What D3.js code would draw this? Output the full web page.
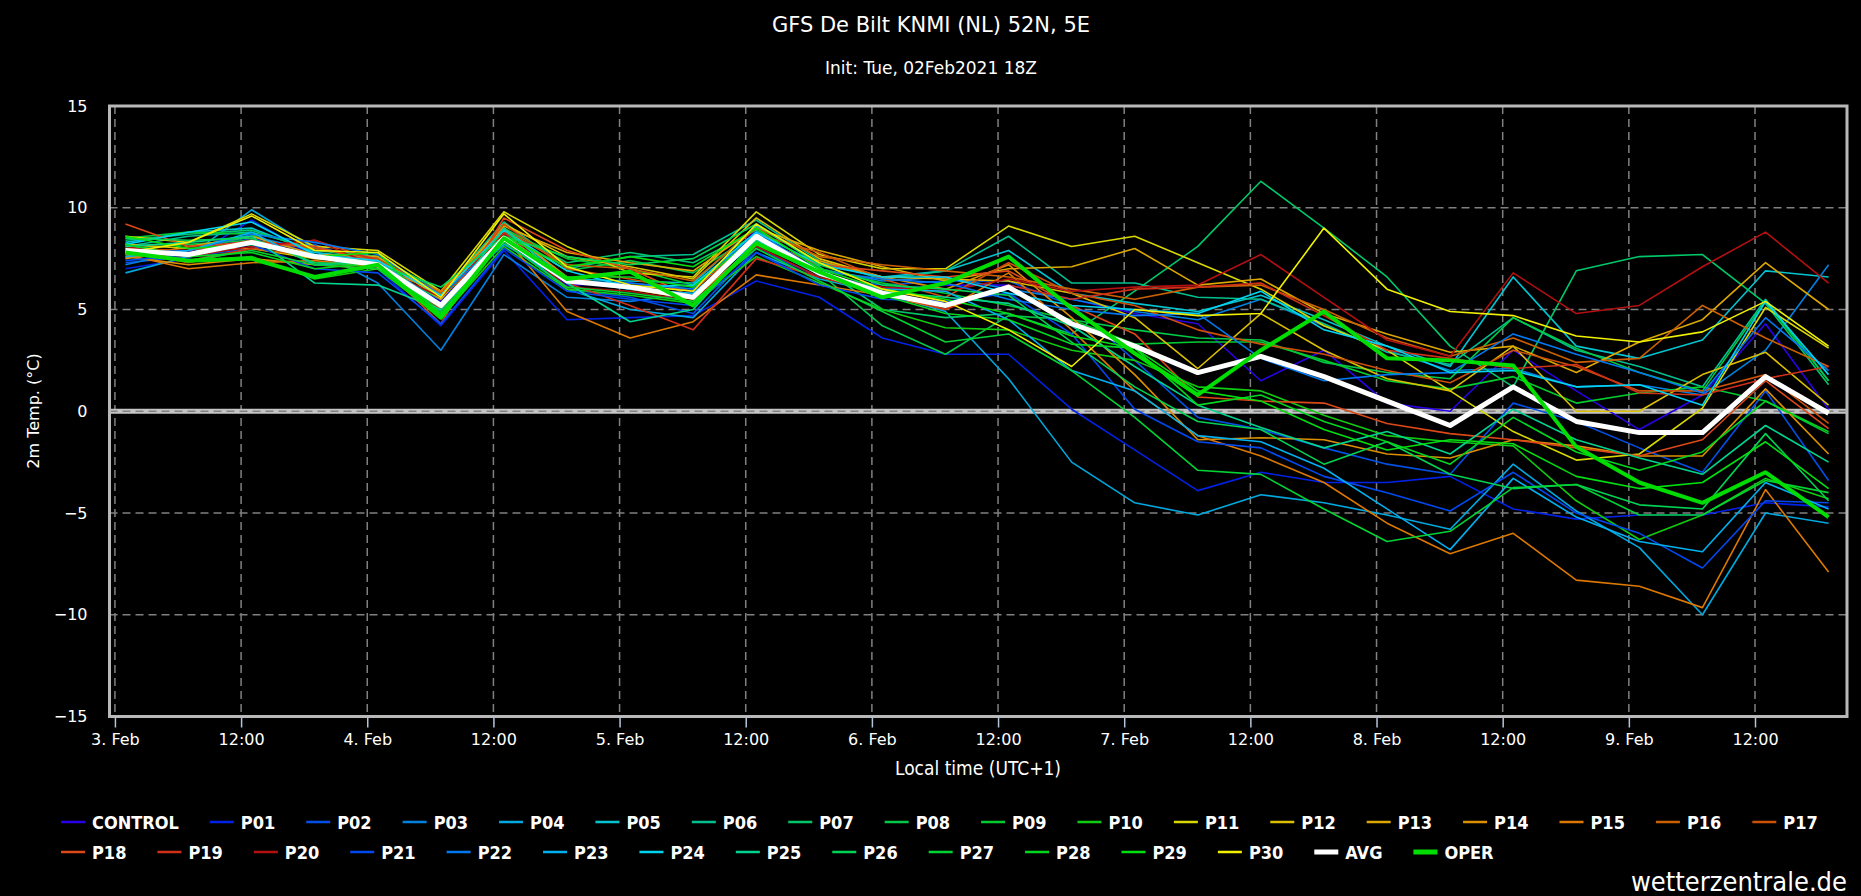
<!DOCTYPE html>
<html>
<head>
<meta charset="utf-8">
<script src="https://cdn.jsdelivr.net/npm/d3@7"></script>
<style>
  html, body { margin: 0; padding: 0; background: #000; overflow: hidden; }
  svg { display: block; }
  .cond { font-family: "DejaVu Sans Condensed", "Liberation Sans Narrow", "DejaVu Sans", sans-serif; font-stretch: condensed; }
</style>
</head>
<body>
<svg id="chart"></svg>
<script>
// 6-hourly forecast steps, local time (UTC+1)
const times = [
  "2021-02-03T01:00Z", "2021-02-03T07:00Z", "2021-02-03T13:00Z", "2021-02-03T19:00Z",
  "2021-02-04T01:00Z", "2021-02-04T07:00Z", "2021-02-04T13:00Z", "2021-02-04T19:00Z",
  "2021-02-05T01:00Z", "2021-02-05T07:00Z", "2021-02-05T13:00Z", "2021-02-05T19:00Z",
  "2021-02-06T01:00Z", "2021-02-06T07:00Z", "2021-02-06T13:00Z", "2021-02-06T19:00Z",
  "2021-02-07T01:00Z", "2021-02-07T07:00Z", "2021-02-07T13:00Z", "2021-02-07T19:00Z",
  "2021-02-08T01:00Z", "2021-02-08T07:00Z", "2021-02-08T13:00Z", "2021-02-08T19:00Z",
  "2021-02-09T01:00Z", "2021-02-09T07:00Z", "2021-02-09T13:00Z", "2021-02-09T19:00Z"
];

const xTicks = [
  "2021-02-03T00:00Z", "2021-02-03T12:00Z", "2021-02-04T00:00Z", "2021-02-04T12:00Z",
  "2021-02-05T00:00Z", "2021-02-05T12:00Z", "2021-02-06T00:00Z", "2021-02-06T12:00Z",
  "2021-02-07T00:00Z", "2021-02-07T12:00Z", "2021-02-08T00:00Z", "2021-02-08T12:00Z",
  "2021-02-09T00:00Z", "2021-02-09T12:00Z"
];
const xTickLabels = ["3. Feb", "12:00", "4. Feb", "12:00", "5. Feb", "12:00", "6. Feb", "12:00",
                     "7. Feb", "12:00", "8. Feb", "12:00", "9. Feb", "12:00"];
const yTicks = [-15, -10, -5, 0, 5, 10, 15];

// 2m temperature (°C) per member
const CONTROL = [7.6, 7.8, 8.5, 7.8, 7.3, 5.4, 8.8, 6.2, 6.3, 5.9, 8.9, 6.7, 6.0, 6.2, 6.2, 5.5, 4.8, 4.3, 1.5, 3.0, 0.4, 0.0, 3.0, 1.0, -0.9, 0.8, 4.3, 0.1];
const P01 = [7.0, 7.5, 9.4, 7.6, 7.0, 4.2, 7.9, 4.5, 4.6, 4.7, 6.4, 5.6, 3.6, 2.8, 2.8, 0.1, -1.9, -3.9, -3.0, -3.5, -3.5, -3.2, -4.8, -5.3, -5.1, -5.1, -4.5, -4.7];
const P02 = [7.3, 7.6, 8.0, 8.2, 7.1, 5.0, 8.4, 6.0, 5.6, 4.8, 8.0, 6.6, 6.2, 6.4, 6.4, 5.2, 2.5, -0.3, -0.9, -1.8, -2.6, -3.1, 0.4, -0.5, -1.8, -3.0, 1.0, -3.4];
const P03 = [7.2, 7.9, 8.6, 7.9, 6.3, 3.0, 7.7, 5.6, 5.4, 5.8, 8.4, 7.0, 6.4, 6.6, 6.0, 5.5, 4.9, 4.5, 5.5, 4.2, 3.0, 2.0, 2.1, 1.2, 1.3, 0.8, 3.0, 7.2];
const P04 = [6.8, 7.6, 9.9, 8.0, 7.6, 4.9, 8.6, 6.0, 5.0, 4.6, 7.8, 6.5, 5.8, 4.9, 1.6, -2.5, -4.5, -5.1, -4.1, -4.5, -5.1, -5.8, -2.6, -4.9, -6.7, -10.0, -5.0, -5.5];
const P05 = [8.3, 8.8, 9.0, 7.8, 7.5, 5.6, 9.0, 6.5, 6.4, 6.3, 9.1, 7.3, 6.6, 6.9, 7.9, 5.8, 5.3, 4.9, 5.7, 4.5, 3.2, 2.2, 6.6, 3.2, 2.6, 3.5, 6.9, 6.6];
const P06 = [8.1, 8.6, 8.8, 8.0, 7.4, 5.8, 9.3, 7.0, 7.6, 7.7, 9.4, 7.4, 6.5, 6.9, 8.6, 6.3, 6.3, 5.6, 5.5, 4.3, 2.9, 2.3, 4.6, 3.0, 2.2, 1.2, 5.5, 1.5];
const P07 = [8.4, 8.7, 8.9, 7.9, 7.6, 5.9, 9.0, 7.3, 7.8, 7.3, 8.9, 7.1, 5.0, 4.6, 4.8, 3.8, 5.9, 8.1, 11.3, 9.0, 6.6, 3.2, 1.2, 6.9, 7.6, 7.7, 5.3, 1.3];
const P08 = [8.0, 8.2, 8.4, 7.3, 7.1, 5.5, 8.8, 6.9, 7.4, 6.8, 8.7, 6.8, 4.2, 2.8, 4.7, 4.5, 4.0, 3.6, 3.5, 2.4, 1.9, 1.6, 4.6, 3.1, 1.9, 1.0, 5.4, 1.5];
const P09 = [8.5, 8.8, 8.7, 7.2, 7.3, 4.9, 8.9, 7.5, 7.0, 6.2, 8.5, 7.0, 6.3, 5.8, 5.2, 4.5, 3.3, 3.4, 3.4, 2.5, 1.5, 1.1, 1.7, 0.4, 0.9, 1.2, 0.5, -1.1];
const P10 = [7.7, 7.4, 7.6, 6.5, 7.0, 4.6, 8.1, 6.0, 5.7, 5.3, 7.6, 6.3, 5.0, 4.1, 4.0, 3.0, 2.5, 1.2, 1.0, -0.2, -1.2, -1.5, -1.7, -4.4, -6.3, -5.1, -3.3, -4.3];
const P11 = [8.6, 8.3, 9.7, 8.1, 7.9, 5.9, 9.8, 8.1, 6.8, 6.6, 9.8, 7.7, 7.0, 7.0, 9.1, 8.1, 8.6, 7.3, 6.0, 4.2, 3.0, 1.0, -1.0, -2.4, -2.1, 0.15, 5.1, 3.1];
const P12 = [8.2, 8.0, 8.0, 7.5, 7.4, 5.7, 9.2, 7.6, 7.1, 6.5, 9.5, 7.5, 6.6, 6.5, 6.4, 5.8, 4.6, 2.1, 4.8, 3.0, 1.6, 1.0, 3.2, 0.0, 0.0, 1.8, 2.9, 0.3];
const P13 = [7.5, 8.1, 8.6, 7.7, 7.6, 5.5, 9.1, 7.8, 7.3, 6.9, 9.0, 7.9, 7.1, 6.4, 7.0, 7.1, 8.0, 6.2, 6.5, 4.8, 3.8, 2.9, 3.2, 1.9, 3.4, 4.5, 7.3, 5.0];
const P14 = [7.6, 7.2, 7.5, 7.2, 7.0, 5.9, 9.0, 6.6, 6.0, 5.5, 8.2, 7.4, 6.6, 6.0, 7.2, 4.6, 1.8, -1.4, -1.3, -1.4, -2.1, -2.3, -1.4, -1.7, -2.2, -2.2, 1.1, -2.1];
const P15 = [7.7, 7.0, 7.3, 7.4, 7.1, 5.9, 8.6, 4.9, 3.6, 4.4, 6.7, 6.2, 5.7, 5.0, 6.8, 4.0, 1.0, -1.2, -2.2, -3.5, -5.5, -7.0, -6.0, -8.3, -8.6, -9.65, -3.85, -7.9];
const P16 = [7.9, 7.3, 8.0, 7.6, 7.5, 5.8, 8.9, 7.2, 7.0, 6.4, 9.0, 7.6, 7.2, 6.9, 6.6, 6.0, 5.5, 6.1, 6.2, 5.0, 3.6, 2.7, 3.6, 2.4, 2.6, 5.2, 3.6, 2.2];
const P17 = [8.0, 7.9, 8.4, 8.0, 7.5, 5.2, 9.2, 7.0, 6.5, 5.9, 8.7, 7.8, 6.5, 5.6, 7.3, 5.8, 5.2, 4.0, 3.3, 2.8, 2.0, 1.4, 3.0, 2.2, 1.0, 1.0, 1.8, -0.6];
const P18 = [9.2, 8.1, 8.3, 8.1, 7.3, 4.3, 9.5, 7.9, 7.0, 5.6, 8.5, 7.2, 6.9, 6.6, 6.9, 5.2, 3.8, 0.7, 0.5, 0.4, -0.6, -1.1, -1.4, -1.8, -2.2, -1.4, 1.5, -0.85];
const P19 = [8.0, 7.4, 8.0, 8.4, 7.4, 5.0, 8.8, 6.3, 5.2, 4.0, 7.5, 6.6, 5.8, 5.0, 6.2, 5.5, 6.0, 6.1, 6.3, 4.7, 3.0, 2.6, 2.1, 2.3, 0.9, 0.8, 1.6, 2.2];
const P20 = [8.1, 7.6, 8.1, 8.4, 7.1, 5.6, 8.7, 6.1, 5.9, 5.4, 8.1, 6.6, 6.1, 5.9, 6.5, 5.9, 6.1, 6.2, 7.7, 5.6, 3.5, 2.7, 6.8, 4.8, 5.2, 7.1, 8.8, 6.3];
const P21 = [7.4, 7.7, 8.2, 7.0, 6.8, 4.3, 8.0, 5.9, 5.5, 5.2, 7.8, 6.2, 5.5, 5.4, 5.8, 3.8, 0.1, -1.5, -1.8, -3.2, -4.0, -4.9, -3.0, -5.0, -6.0, -7.7, -4.4, -4.5];
const P22 = [7.8, 7.9, 8.7, 8.3, 7.7, 5.7, 8.5, 6.4, 6.3, 6.0, 8.8, 6.9, 6.5, 6.3, 5.5, 5.0, 4.7, 4.8, 2.6, 1.5, 1.8, 1.9, 3.8, 2.8, 1.9, 0.9, 4.6, 2.0];
const P23 = [7.6, 7.9, 8.8, 7.2, 7.4, 5.3, 8.2, 6.4, 6.0, 5.8, 8.3, 6.7, 6.0, 5.9, 4.5, 2.0, 1.0, -1.2, -1.5, -2.8, -4.8, -6.8, -3.3, -5.2, -6.4, -6.9, -3.5, -4.8];
const P24 = [8.2, 8.8, 9.3, 7.7, 7.4, 5.7, 8.9, 6.9, 6.1, 6.2, 8.8, 7.2, 6.6, 6.6, 5.8, 5.2, 5.0, 4.8, 5.9, 4.0, 3.2, 1.9, 2.0, 1.2, 1.3, 0.3, 5.4, 1.8];
const P25 = [8.1, 8.3, 8.6, 6.3, 6.2, 5.0, 9.0, 6.3, 4.4, 5.0, 8.4, 6.7, 5.9, 5.6, 5.3, 4.2, 2.2, 0.3, -0.8, -1.8, -1.0, -2.1, 0.1, -1.4, -2.3, -3.1, -0.7, -2.5];
const P26 = [8.5, 8.4, 8.5, 7.3, 7.2, 6.1, 8.6, 7.6, 7.2, 7.5, 9.2, 7.2, 6.2, 6.0, 5.7, 3.4, 1.2, -0.5, -0.9, -2.6, -1.5, -3.1, -3.8, -3.6, -4.6, -4.8, -1.1, -4.4];
const P27 = [7.8, 7.4, 7.9, 7.2, 7.0, 5.1, 8.3, 6.1, 5.8, 5.4, 8.0, 6.4, 4.9, 3.4, 3.8, 2.0, -0.3, -2.9, -3.1, -4.8, -6.4, -5.9, -3.75, -3.6, -5.1, -5.1, -3.4, -4.0];
const P28 = [8.2, 7.6, 7.8, 7.0, 7.3, 4.8, 8.5, 6.6, 6.6, 6.1, 8.6, 6.9, 5.7, 4.8, 4.5, 3.3, 3.1, 0.3, 0.8, -0.5, -1.5, -2.6, -0.3, -2.0, -2.9, -2.0, 0.5, -1.0];
const P29 = [8.6, 8.0, 8.2, 7.6, 7.8, 4.7, 8.6, 7.1, 7.6, 7.1, 9.0, 7.0, 6.0, 5.5, 4.8, 3.7, 3.1, 1.0, 0.5, -0.9, -1.9, -1.4, -1.6, -3.2, -3.8, -3.5, -1.5, -3.8];
const P30 = [7.8, 8.3, 9.6, 7.9, 7.8, 5.6, 9.7, 7.1, 6.2, 5.9, 9.2, 7.3, 6.0, 5.4, 4.0, 2.2, 5.0, 4.7, 4.8, 9.0, 6.0, 4.9, 4.7, 3.7, 3.4, 3.9, 5.4, 3.2];
const AVG = [7.9, 7.7, 8.3, 7.6, 7.2, 5.2, 8.5, 6.4, 6.1, 5.6, 8.6, 6.8, 5.8, 5.2, 6.1, 4.3, 3.2, 1.9, 2.7, 1.7, 0.5, -0.7, 1.2, -0.5, -1.05, -1.05, 1.7, -0.1];
const OPER = [7.8, 7.4, 7.5, 6.6, 7.2, 4.6, 8.5, 6.5, 6.85, 5.2, 8.25, 6.85, 5.6, 6.3, 7.6, 5.05, 2.85, 0.8, 3.0, 4.9, 2.6, 2.5, 2.25, -1.75, -3.5, -4.5, -3.0, -5.2];

const seriesNames = ["CONTROL", "P01", "P02", "P03", "P04", "P05", "P06", "P07", "P08", "P09", "P10",
  "P11", "P12", "P13", "P14", "P15", "P16", "P17", "P18", "P19", "P20", "P21", "P22", "P23", "P24",
  "P25", "P26", "P27", "P28", "P29", "P30", "AVG", "OPER"];
const seriesValues = [CONTROL, P01, P02, P03, P04, P05, P06, P07, P08, P09, P10,
  P11, P12, P13, P14, P15, P16, P17, P18, P19, P20, P21, P22, P23, P24,
  P25, P26, P27, P28, P29, P30, AVG, OPER];
const seriesColors = ["#2a00e6", "#0022e6", "#0050e6", "#0080e0", "#00a8e0", "#00c4d0", "#00c090",
  "#00c868", "#00c848", "#00cc30", "#10cc10", "#d8d800", "#dcc000", "#dca800", "#dc9000", "#dc7800",
  "#cc6000", "#cc5008", "#dc4818", "#d03018", "#b41010", "#0048f0", "#0078f0", "#00b0f0", "#00d4f0",
  "#00d490", "#00d454", "#00d434", "#00d820", "#00e010", "#f0f000", "#ffffff", "#00dd00"];

// ---------------------------------------------------------------
const W = 1861, H = 896;
const plot = { left: 109.5, top: 106, right: 1847, bottom: 716.5 };

const svg = d3.select("#chart").attr("width", W).attr("height", H)
  .style("background", "#000");

const x = d3.scaleUtc()
  .domain([new Date("2021-02-02T23:29Z"), new Date("2021-02-09T20:45Z")])
  .range([plot.left, plot.right]);
const y = d3.scaleLinear().domain([-15, 15]).range([plot.bottom, plot.top]);

// title
svg.append("text").attr("x", 931).attr("y", 32).attr("text-anchor", "middle")
  .style("font-family", "DejaVu Sans, sans-serif").style("font-size", "21px").attr("fill", "#fff")
  .text("GFS De Bilt KNMI (NL) 52N, 5E");
svg.append("text").attr("x", 931).attr("y", 74).attr("text-anchor", "middle")
  .style("font-family", "DejaVu Sans, sans-serif").style("font-size", "17px").attr("fill", "#fff")
  .text("Init: Tue, 02Feb2021 18Z");

// grid
const grid = svg.append("g");
grid.selectAll(".vg").data(xTicks).enter().append("line")
  .attr("x1", d => x(new Date(d))).attr("x2", d => x(new Date(d)))
  .attr("y1", plot.top).attr("y2", plot.bottom)
  .attr("stroke", "#808080").attr("stroke-width", 1.5).attr("stroke-dasharray", "8,5");
grid.append("line")
  .attr("x1", plot.left).attr("x2", plot.right).attr("y1", y(0)).attr("y2", y(0))
  .attr("stroke", "#c4c4c4").attr("stroke-width", 5);
grid.selectAll(".hg").data(yTicks.filter(d => d > -15 && d < 15)).enter().append("line")
  .attr("x1", plot.left).attr("x2", plot.right).attr("y1", d => y(d)).attr("y2", d => y(d))
  .attr("stroke", "#808080").attr("stroke-width", 1.5).attr("stroke-dasharray", "8,5");

// series
svg.append("clipPath").attr("id", "clip").append("rect")
  .attr("x", plot.left).attr("y", plot.top)
  .attr("width", plot.right - plot.left).attr("height", plot.bottom - plot.top);

const line = d3.line()
  .x((d, i) => x(new Date(times[i])))
  .y(d => y(d));

const series = seriesNames.map((name, k) => ({
  name, values: seriesValues[k], color: seriesColors[k],
  width: name === "AVG" ? 5 : name === "OPER" ? 4 : 1.6
}));

svg.append("g").attr("clip-path", "url(#clip)")
  .selectAll("path").data(series).enter().append("path")
  .attr("d", d => line(d.values))
  .attr("fill", "none")
  .attr("stroke", d => d.color)
  .attr("stroke-width", d => d.width)
  .attr("stroke-linejoin", "round");

// frame
svg.append("rect").attr("x", plot.left).attr("y", plot.top)
  .attr("width", plot.right - plot.left).attr("height", plot.bottom - plot.top)
  .attr("fill", "none").attr("stroke", "#b8b8b8").attr("stroke-width", 3);

// axes
const xAxis = svg.append("g").attr("transform", `translate(0,${plot.bottom + 1})`)
  .call(d3.axisBottom(x).tickValues(xTicks.map(d => new Date(d)))
    .tickFormat((d, i) => xTickLabels[i]).tickSize(10).tickPadding(6));
xAxis.select(".domain").remove();
xAxis.selectAll(".tick line").attr("stroke", "#b4c4dc").attr("stroke-width", 1.5);
xAxis.selectAll(".tick text").attr("fill", "#fff")
  .style("font-family", "DejaVu Sans, sans-serif").style("font-size", "16px");

const yAxis = svg.append("g").attr("transform", `translate(${plot.left},0)`)
  .call(d3.axisLeft(y).tickValues(yTicks).tickSize(0).tickPadding(22));
yAxis.select(".domain").remove();
yAxis.selectAll(".tick text").attr("fill", "#fff")
  .style("font-family", "DejaVu Sans, sans-serif").style("font-size", "16px");

// axis titles
svg.append("text").attr("class", "cond").attr("x", 978).attr("y", 775).attr("text-anchor", "middle")
  .style("font-size", "19px").attr("fill", "#fff").text("Local time (UTC+1)");
svg.append("text").attr("transform", "translate(33.5,411) rotate(-90)")
  .attr("text-anchor", "middle").attr("dy", "0.35em")
  .style("font-family", "DejaVu Sans, sans-serif").style("font-size", "16px")
  .attr("fill", "#fff").text("2m Temp. (°C)");

// legend
const legend = svg.append("g").attr("class", "cond");
const rowY = [822, 852];
let lx = 61, row = 0;
series.forEach((s, k) => {
  if (k === 18) { row = 1; lx = 61; }
  const g = legend.append("g").attr("transform", `translate(${lx},${rowY[row]})`);
  g.append("line").attr("x1", 0).attr("x2", 24).attr("y1", 0).attr("y2", 0)
    .attr("stroke", s.color).attr("stroke-width", s.name === "AVG" || s.name === "OPER" ? 5 : 2.5);
  const t = g.append("text").attr("x", 31).attr("y", 6.5)
    .style("font-size", "18px").style("font-weight", "bold").attr("fill", "#fff").text(s.name);
  lx += 31 + t.node().getComputedTextLength() + 31;
});

// credit
svg.append("text").attr("class", "cond").attr("x", 1847).attr("y", 891).attr("text-anchor", "end")
  .style("font-size", "27px").attr("fill", "#fff").text("wetterzentrale.de");
</script>
</body>
</html>
